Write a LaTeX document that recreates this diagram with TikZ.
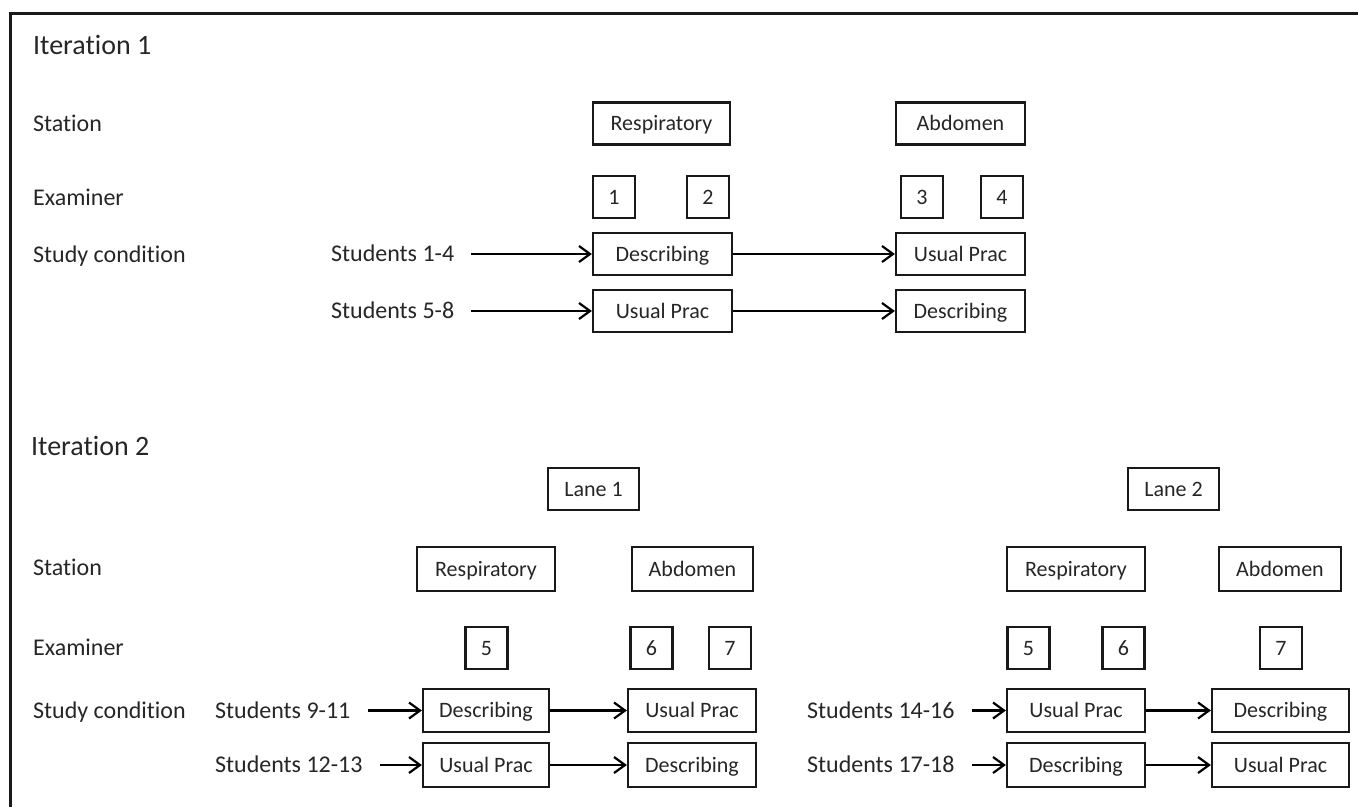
\documentclass[tikz,border=0pt]{standalone}
\usepackage{fontspec}
\setmainfont{Carlito}[Ligatures=NoCommon]
\usetikzlibrary{arrows.meta}
\definecolor{cgray}{rgb}{0.15, 0.15, 0.15}
\definecolor{cline}{rgb}{0.1, 0.1, 0.1}

\begin{document}
\begin{tikzpicture}[x=1pt,y=-1pt,>={Straight Barb[length=11pt,width=16pt]},line width=2.2pt,
  head node/.style={anchor=west,inner sep=0pt,text=cgray,text height=18pt,text depth=0pt,font=\fontsize{28}{32}\selectfont},
  label node/.style={anchor=west,inner sep=0pt,text=cgray,text height=15.5pt,text depth=0pt,font=\fontsize{24}{28}\selectfont},
  student node/.style={label node,inner xsep=16pt},
  box node/.style={draw=cline,inner sep=0pt,minimum height=42pt,text=cgray,text height=14pt,text depth=0pt,font=\fontsize{22}{26}\selectfont},
  num node/.style={box node,minimum width=42pt}]
  \useasboundingbox (0,0) rectangle (1358,807);
  \draw[line width=3pt,cline] (10,807) -- (10,13) -- (1358,13);

  % Iteration 1
  \node[head node] (it1) at (32,45) {Iteration 1};
  \node[label node] (st1) at (32,124) {Station};
  \node[label node] (ex1) at (32,198) {Examiner};
  \node[label node] (sc1) at (32,255) {Study condition};

  \node[box node,minimum width=137pt] (resp1) at (661.5,123.5) {Respiratory};
  \node[box node,minimum width=129pt] (abd1) at (960.5,123.5) {Abdomen};
  \node[num node] (e1) at (614,197) {1};
  \node[num node] (e2) at (708,197) {2};
  \node[num node] (e3) at (922,197) {3};
  \node[num node] (e4) at (1002,197) {4};

  \node[student node] (s1) at (314,254) {Students 1-4};
  \node[student node] (s5) at (314,311) {Students 5-8};
  \node[box node,minimum width=139pt] (d1) at (662.5,254) {Describing};
  \node[box node,minimum width=129pt] (u1) at (960.5,254) {Usual Prac};
  \node[box node,minimum width=139pt] (u2) at (662.5,311) {Usual Prac};
  \node[box node,minimum width=129pt] (d2) at (960.5,311) {Describing};

  \path[->] (s1) edge (d1)
            (d1) edge (u1)
            (s5) edge (u2)
            (u2) edge (d2);

  % Iteration 2
  \node[head node] (it2) at (30,446) {Iteration 2};
  \node[label node] (st2) at (32,568) {Station};
  \node[label node] (ex2) at (32,648) {Examiner};
  \node[label node] (sc2) at (32,711) {Study condition};

  \node[box node,minimum width=91pt] (lane1) at (593.5,489) {Lane 1};
  \node[box node,minimum width=91pt] (lane2) at (1173.5,489) {Lane 2};

  % lane 1
  \node[box node,minimum width=138pt,minimum height=44pt] (resp2) at (486,569) {Respiratory};
  \node[box node,minimum width=121pt,minimum height=44pt] (abd2) at (692.5,569) {Abdomen};
  \node[num node] (e5) at (486.5,648) {5};
  \node[num node] (e6) at (651.5,648) {6};
  \node[num node] (e7) at (730,648) {7};
  \node[student node] (s9) at (198,710.5) {Students 9-11};
  \node[student node] (s12) at (198,765) {Students 12-13};
  \node[box node,minimum width=126pt,minimum height=43pt] (d3) at (486,710.5) {Describing};
  \node[box node,minimum width=128pt,minimum height=43pt] (u3) at (692,710.5) {Usual Prac};
  \node[box node,minimum width=126pt,minimum height=44pt] (u4) at (486,765) {Usual Prac};
  \node[box node,minimum width=128pt,minimum height=44pt] (d4) at (692,765) {Describing};

  % lane 2
  \node[box node,minimum width=138pt,minimum height=44pt] (resp3) at (1076,569) {Respiratory};
  \node[box node,minimum width=122pt,minimum height=44pt] (abd3) at (1280,569) {Abdomen};
  \node[num node] (e5b) at (1028.5,648) {5};
  \node[num node] (e6b) at (1123.5,648) {6};
  \node[num node] (e7b) at (1281,648) {7};
  \node[student node] (s14) at (790,710.5) {Students 14-16};
  \node[student node] (s17) at (790,765) {Students 17-18};
  \node[box node,minimum width=138pt,minimum height=43pt] (u5) at (1076,710.5) {Usual Prac};
  \node[box node,minimum width=137pt,minimum height=43pt] (d5) at (1280.5,710.5) {Describing};
  \node[box node,minimum width=138pt,minimum height=44pt] (d6) at (1076,765) {Describing};
  \node[box node,minimum width=137pt,minimum height=44pt] (u6) at (1280.5,765) {Usual Prac};

  \path[->] (s9) edge (d3)
            (d3) edge (u3)
            (s12) edge (u4)
            (u4) edge (d4)
            (s14) edge (u5)
            (u5) edge (d5)
            (s17) edge (d6)
            (d6) edge (u6);
\end{tikzpicture}
\end{document}
